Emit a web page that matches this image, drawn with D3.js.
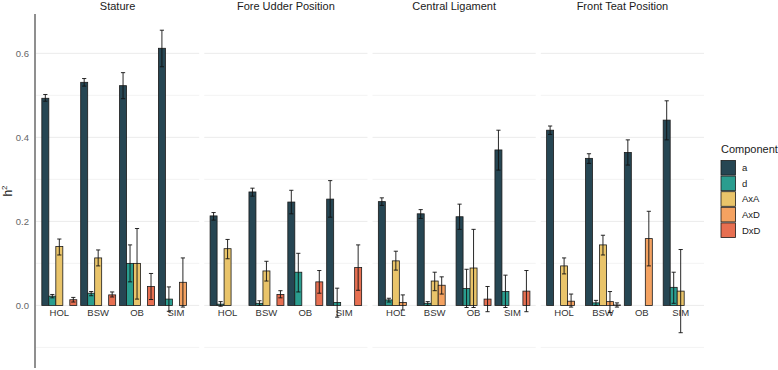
<!DOCTYPE html>
<html lang="en">
<head>
    <meta charset="UTF-8">
    <title>Variance components</title>
    <script src="https://cdn.jsdelivr.net/npm/d3@7"></script>
    <style>
        body { margin: 0; background: #fff; }
        svg text { font-family: "Liberation Sans", Arial, sans-serif; }
        .grid line { stroke: #ebebeb; }
    </style>
</head>
<body>
    <script>
        var w = 778;
        var h = 370;

        var traits = ['Stature', 'Fore Udder Position', 'Central Ligament', 'Front Teat Position'];
        var breeds = ['HOL', 'BSW', 'OB', 'SIM'];
        var components = ['a', 'd', 'AxA', 'AxD', 'DxD'];
        var colors = ['#264653', '#2a9d8f', '#e9c46a', '#f4a261', '#e76f51'];
        var yTicks = [0, 0.2, 0.4, 0.6];

        //rows = breeds, columns = components, null = not estimated
        var statureEst = [[0.493, 0.022, 0.140, null, 0.0135], [0.531, 0.029, 0.113, null, 0.025], [0.523, 0.100, 0.100, null, 0.045], [0.612, 0.015, null, 0.055, null]];
        var statureLo = [[0.486, 0.018, 0.120, null, 0.008], [0.522, 0.023, 0.094, null, 0.020], [0.492, 0.056, 0.015, null, 0.014], [0.568, -0.014, null, -0.004, null]];
        var statureHi = [[0.502, 0.026, 0.158, null, 0.019], [0.540, 0.033, 0.132, null, 0.032], [0.554, 0.144, 0.183, null, 0.076], [0.655, 0.044, null, 0.113, null]];

        var udderEst = [[0.213, 0.003, 0.135, null, null], [0.270, 0.005, 0.082, null, 0.026], [0.246, 0.079, null, null, 0.056], [0.253, 0.007, null, null, 0.090]];
        var udderLo = [[0.203, -0.002, 0.111, null, null], [0.260, 0.000, 0.058, null, 0.018], [0.218, 0.032, null, null, 0.029], [0.210, -0.028, null, null, 0.036]];
        var udderHi = [[0.221, 0.009, 0.157, null, null], [0.279, 0.011, 0.105, null, 0.035], [0.274, 0.124, null, null, 0.083], [0.297, 0.041, null, null, 0.144]];

        var ligamentEst = [[0.247, 0.013, 0.106, 0.007, null], [0.218, 0.005, 0.058, 0.048, null], [0.211, 0.040, 0.089, null, 0.015], [0.370, 0.033, null, null, 0.034]];
        var ligamentLo = [[0.238, 0.008, 0.084, -0.011, null], [0.207, 0.000, 0.035, 0.027, null], [0.181, -0.005, -0.005, null, -0.015], [0.322, -0.005, null, null, -0.015]];
        var ligamentHi = [[0.256, 0.017, 0.129, 0.025, null], [0.228, 0.009, 0.079, 0.068, null], [0.241, 0.086, 0.181, null, 0.045], [0.417, 0.072, null, null, 0.083]];

        var teatEst = [[0.417, null, 0.094, 0.010, null], [0.350, 0.006, 0.144, 0.009, 0.001], [0.364, null, null, 0.159, null], [0.441, 0.043, 0.034, null, null]];
        var teatLo = [[0.407, null, 0.075, -0.004, null], [0.338, 0.000, 0.120, -0.017, -0.004], [0.334, null, null, 0.094, null], [0.394, 0.005, -0.065, null, null]];
        var teatHi = [[0.427, null, 0.113, 0.027, null], [0.361, 0.012, 0.167, 0.033, 0.006], [0.394, null, null, 0.224, null], [0.487, 0.079, 0.133, null, null]];

        var estimates = [statureEst, udderEst, ligamentEst, teatEst];
        var lows = [statureLo, udderLo, ligamentLo, teatLo];
        var highs = [statureHi, udderHi, ligamentHi, teatHi];

        //scales
        var panelScale = d3.scaleBand()
                        .domain(traits)
                        .range([36, 704])
                        .paddingInner(0.03);

        var xScale = d3.scaleBand()
                        .domain(breeds)
                        .range([0, panelScale.bandwidth()])
                        .paddingInner(0.1)
                        .paddingOuter(0.15);

        var compScale = d3.scaleBand()
                        .domain(components)
                        .range([0, xScale.bandwidth()]);

        var yScale = d3.scaleLinear()
                        .domain([-0.149, 0.6936])
                        .range([368, 14]);

        var colorScale = d3.scaleOrdinal()
                        .domain(components)
                        .range(colors);

        var svg = d3.select('body')
                    .append('svg')
                    .attr('width', w)
                    .attr('height', h);

        //flatten rows for each panel
        function panelData(t) {
            var out = [];
            breeds.forEach(function(b, i) {
                components.forEach(function(c, j) {
                    var v = estimates[t][i][j];
                    if (v !== null) {
                        out.push({breed: b, comp: c, v: v, lo: lows[t][i][j], hi: highs[t][i][j]});
                    }
                });
            });
            return out;
        }

        var minorTicks = [-0.1, 0.1, 0.3, 0.5];

        traits.forEach(function(trait, t) {
            var g = svg.append('g')
                        .attr('transform', 'translate(' + panelScale(trait) + ',0)');

            //grid
            g.append('g')
                .attr('class', 'grid')
                .selectAll('line')
                .data(yTicks.concat(minorTicks))
                .enter()
                .append('line')
                .attr('x1', 0)
                .attr('x2', panelScale.bandwidth())
                .attr('y1', function(d) { return yScale(d); })
                .attr('y2', function(d) { return yScale(d); })
                .attr('stroke-width', function(d) { return yTicks.indexOf(d) >= 0 ? 1 : 0.6; });

            //facet title
            g.append('text')
                .attr('x', panelScale.bandwidth() / 2)
                .attr('y', 10)
                .attr('text-anchor', 'middle')
                .attr('font-size', '11px')
                .attr('fill', '#1a1a1a')
                .text(trait);

            //breed labels sit just under zero
            g.selectAll('text.breed')
                .data(breeds)
                .enter()
                .append('text')
                .attr('class', 'breed')
                .attr('x', function(d) { return xScale(d) + xScale.bandwidth() / 2; })
                .attr('y', yScale(0) + 11)
                .attr('text-anchor', 'middle')
                .attr('font-size', '9.5px')
                .attr('fill', '#333')
                .text(function(d) { return d; });

            var data = panelData(t);

            g.selectAll('rect.bar')
                .data(data)
                .enter()
                .append('rect')
                .attr('class', 'bar')
                .attr('x', function(d) { return xScale(d.breed) + compScale(d.comp); })
                .attr('width', compScale.bandwidth())
                .attr('y', function(d) { return yScale(Math.max(d.v, 0)); })
                .attr('height', function(d) { return Math.abs(yScale(d.v) - yScale(0)); })
                .attr('fill', function(d) { return colorScale(d.comp); })
                .attr('stroke', '#1a1a1a')
                .attr('stroke-width', 0.8);

            //error bars
            var cap = compScale.bandwidth() * 0.3;
            var eb = g.selectAll('g.err')
                .data(data)
                .enter()
                .append('g')
                .attr('class', 'err')
                .attr('stroke', '#111')
                .attr('stroke-width', 0.9);

            function cx(d) { return xScale(d.breed) + compScale(d.comp) + compScale.bandwidth() / 2; }

            eb.append('line')
                .attr('x1', cx).attr('x2', cx)
                .attr('y1', function(d) { return yScale(d.lo); })
                .attr('y2', function(d) { return yScale(d.hi); });
            eb.append('line')
                .attr('x1', function(d) { return cx(d) - cap; })
                .attr('x2', function(d) { return cx(d) + cap; })
                .attr('y1', function(d) { return yScale(d.lo); })
                .attr('y2', function(d) { return yScale(d.lo); });
            eb.append('line')
                .attr('x1', function(d) { return cx(d) - cap; })
                .attr('x2', function(d) { return cx(d) + cap; })
                .attr('y1', function(d) { return yScale(d.hi); })
                .attr('y2', function(d) { return yScale(d.hi); });
        });

        //y axis
        var yAxis = d3.axisLeft(yScale)
                        .tickValues(yTicks)
                        .tickFormat(d3.format('.1f'))
                        .tickSize(0)
                        .tickPadding(6);

        var ya = svg.append('g')
            .attr('transform', 'translate(35,0)')
            .call(yAxis);
        ya.select('.domain').remove();
        ya.selectAll('text')
            .attr('font-size', '9.5px')
            .attr('fill', '#666')
            .style('font-family', '"Liberation Sans", Arial, sans-serif');

        svg.append('line')
            .attr('x1', 35).attr('x2', 35)
            .attr('y1', yScale.range()[1]).attr('y2', yScale.range()[0])
            .attr('stroke', '#333')
            .attr('stroke-width', 1.1);

        //axis title h^2
        var yTitle = svg.append('text')
            .attr('transform', 'translate(12,' + ((yScale.range()[0] + yScale.range()[1]) / 2) + ') rotate(-90)')
            .attr('text-anchor', 'middle')
            .attr('font-size', '12px')
            .attr('fill', '#1a1a1a');
        yTitle.append('tspan').attr('fill', '#1a1a1a').text('h');
        yTitle.append('tspan').attr('fill', '#1a1a1a').attr('font-size', '8px').attr('dy', '-5').text('2');

        //legend
        var legend = svg.append('g')
            .attr('transform', 'translate(721,0)');

        legend.append('text')
            .attr('x', 0)
            .attr('y', 153)
            .attr('font-size', '11px')
            .attr('fill', '#1a1a1a')
            .text('Component');

        var keys = legend.selectAll('g.key')
            .data(components)
            .enter()
            .append('g')
            .attr('class', 'key')
            .attr('transform', function(d, i) { return 'translate(0,' + (160.5 + i * 15.6) + ')'; });

        keys.append('rect')
            .attr('width', 14.5)
            .attr('height', 14.6)
            .attr('fill', function(d) { return colorScale(d); })
            .attr('stroke', '#1a1a1a')
            .attr('stroke-width', 0.8);

        keys.append('text')
            .attr('x', 21)
            .attr('y', 7.3)
            .attr('dy', '0.35em')
            .attr('font-size', '9.5px')
            .attr('fill', '#1a1a1a')
            .text(function(d) { return d; });
    </script>
</body>
</html>
